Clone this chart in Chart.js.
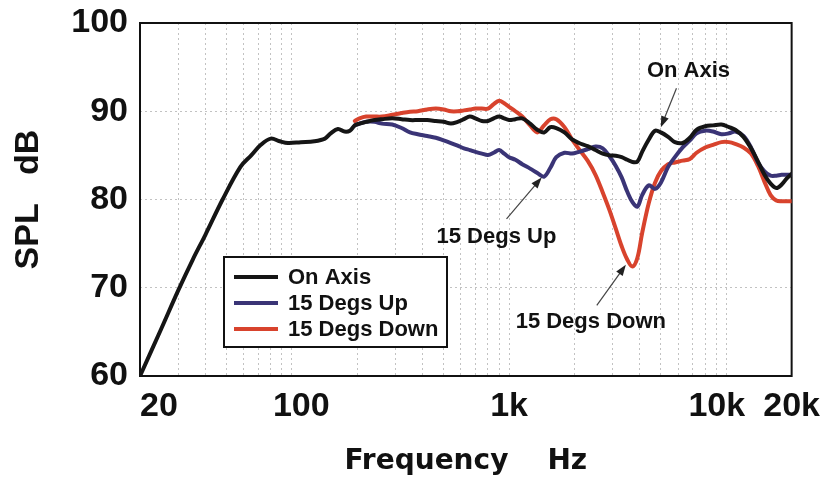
<!DOCTYPE html>
<html>
<head>
<meta charset="utf-8">
<title>SPL vs Frequency</title>
<script src="https://cdn.jsdelivr.net/npm/chart.js@4.4.1/dist/chart.umd.min.js"></script>
<style>
	html, body { margin: 0; padding: 0; background: #fff; }
	#wrap { width: 830px; height: 485px; }
</style>
</head>
<body>
<div id="wrap"><canvas id="spl" width="830" height="485"></canvas></div>
<script>
'use strict';

// frequencies (Hz) shared by all three curves
const freqs = [20, 25, 30, 35, 40, 48, 58, 65, 72, 80, 88, 96, 110, 127, 142, 151, 163, 175, 185, 195,
	205, 220, 240, 260, 290, 320, 350, 380, 420, 460, 500, 540, 580, 620, 660, 700, 750, 800, 850, 900,
	950, 1000, 1070, 1150, 1250, 1350, 1450, 1550, 1650, 1800, 1950, 2100, 2300, 2500, 2700, 2900,
	3100, 3300, 3500, 3700, 3900, 4100, 4400, 4700, 5000, 5400, 5800, 6300, 6800, 7300, 8000, 8700,
	9500, 10300, 11000, 12000, 13000, 14000, 15000, 16000, 17000, 18000, 19000, 20000];

const onAxis = [60.0, 65.3, 69.7, 73.2, 76.0, 80.0, 83.7, 85.0, 86.2, 86.9, 86.6, 86.4, 86.5, 86.6, 86.9,
	87.5, 88.0, 87.7, 87.8, 88.4, 88.6, 88.8, 89.0, 89.1, 89.2, 89.1, 89.0, 89.0, 89.0, 88.9,
	88.8, 88.6, 88.8, 89.1, 89.4, 89.2, 88.9, 88.9, 89.2, 89.4, 89.2, 89.0, 89.1, 89.2, 88.6,
	87.9, 87.6, 88.2, 88.1, 87.6, 86.8, 86.4, 86.05, 85.6, 85.2, 85.0, 84.95, 84.8, 84.5, 84.25,
	84.3, 85.4, 86.8, 87.8, 87.6, 87.1, 86.5, 86.4, 87.0, 87.9, 88.3, 88.4, 88.5, 88.2, 87.9,
	87.1, 85.8, 84.3, 82.8, 81.8, 81.3, 81.7, 82.4, 82.9];

const degsUp = [null, null, null, null, null, null, null, null, null, null, null, null, null, null, null,
	null, null, null, null,
	88.4, 88.6, 88.8, 88.8, 88.6, 88.5, 88.1, 87.6, 87.4, 87.2, 87.0, 86.7, 86.4, 86.1, 85.8,
	85.6, 85.4, 85.2, 85.05, 85.3, 85.6, 85.2, 84.8, 84.5, 84.0, 83.5, 83.0, 82.6, 83.6, 84.8,
	85.3, 85.2, 85.4, 85.7, 86.0, 85.8, 84.9, 83.8, 82.5, 80.9, 79.7, 79.2, 80.5, 81.6, 81.2,
	81.9, 83.7, 84.8, 85.9, 86.7, 87.5, 87.8, 87.7, 87.4, 87.5, 87.7, 87.2, 85.9, 84.2, 83.2,
	82.7, 82.7, 82.8, 82.8, 82.8];

const degsDown = [null, null, null, null, null, null, null, null, null, null, null, null, null, null, null,
	null, null, null, null,
	88.9, 89.2, 89.4, 89.4, 89.4, 89.6, 89.8, 89.95, 90.0, 90.2, 90.3, 90.2, 90.0, 90.0, 90.1,
	90.2, 90.3, 90.3, 90.3, 90.8, 91.2, 90.9, 90.5, 90.0, 89.4, 88.4, 87.6, 88.4, 89.1, 89.1,
	88.2, 86.8, 85.7, 84.4, 82.8, 80.8, 78.8, 76.7, 74.7, 73.2, 72.4, 73.4, 76.2, 79.6, 81.9,
	83.2, 84.0, 84.2, 84.4, 84.6, 85.3, 85.9, 86.2, 86.5, 86.5, 86.3, 85.9, 85.2, 83.8, 82.0,
	80.5, 79.9, 79.8, 79.8, 79.8];

const seriesNames = ['On Axis', '15 Degs Up', '15 Degs Down'];
const seriesColors = ['#151515', '#3a3476', '#d8432d'];

// x grid lines (Hz) and the few that carry a label
const xGridFreqs = [20, 30, 40, 50, 60, 70, 80, 90, 100, 200, 300, 400, 500, 600, 700, 800, 900,
	1000, 2000, 3000, 4000, 5000, 6000, 7000, 8000, 9000, 10000, 20000];
const xTickLabels = { 20: '    20', 100: '  100', 1000: '1k', 10000: '10k  ', 20000: '20k' };

// callouts: label centre, arrow tail, arrow tip, all as [Hz, dB]
const callouts = [
	{ text: 'On Axis', at: [6700, 94.6], from: [5900, 92.6], to: [5000, 88.2] },
	{ text: '15 Degs Up', at: [875, 75.8], from: [974, 77.8], to: [1413, 82.5] },
	{ text: '15 Degs Down', at: [2380, 66.1], from: [2535, 68.0], to: [3450, 72.6] }
];

const ARIAL = '"Liberation Sans", Arial, Helvetica, sans-serif';

const framePlugin = {
	id: 'frame',
	beforeDatasetsDraw(chart) {
		const { ctx, chartArea: a } = chart;
		ctx.save();
		ctx.strokeStyle = '#111';
		ctx.lineWidth = 2;
		ctx.strokeRect(a.left, a.top, a.right - a.left, a.bottom - a.top);
		ctx.restore();
	}
};

const boxLegendPlugin = {
	id: 'boxLegend',
	afterDatasetsDraw(chart) {
		const { ctx, chartArea: a } = chart;
		const left = a.left + 84, top = a.top + 234, w = 223, h = 90;
		ctx.save();
		ctx.fillStyle = '#fff';
		ctx.fillRect(left, top, w, h);
		ctx.strokeStyle = '#111';
		ctx.lineWidth = 2;
		ctx.strokeRect(left, top, w, h);
		ctx.font = 'bold 22px ' + ARIAL;
		ctx.textBaseline = 'middle';
		chart.data.datasets.forEach((ds, i) => {
			const y = top + 20 + i * 26;
			ctx.strokeStyle = ds.borderColor;
			ctx.lineWidth = 4;
			ctx.beginPath();
			ctx.moveTo(left + 10, y);
			ctx.lineTo(left + 54, y);
			ctx.stroke();
			ctx.fillStyle = '#111';
			ctx.fillText(ds.label, left + 64, y + 1);
		});
		ctx.restore();
	}
};

const calloutPlugin = {
	id: 'callouts',
	afterDatasetsDraw(chart) {
		const { ctx, scales: { x, y } } = chart;
		ctx.save();
		for (const c of callouts) {
			const x1 = x.getPixelForValue(c.from[0]), y1 = y.getPixelForValue(c.from[1]);
			const x2 = x.getPixelForValue(c.to[0]), y2 = y.getPixelForValue(c.to[1]);
			const ang = Math.atan2(y2 - y1, x2 - x1);
			ctx.strokeStyle = '#444';
			ctx.fillStyle = '#222';
			ctx.lineWidth = 1.2;
			ctx.beginPath();
			ctx.moveTo(x1, y1);
			ctx.lineTo(x2 - 8 * Math.cos(ang), y2 - 8 * Math.sin(ang));
			ctx.stroke();
			ctx.beginPath();
			ctx.moveTo(x2, y2);
			ctx.lineTo(x2 - 11 * Math.cos(ang) + 4 * Math.sin(ang), y2 - 11 * Math.sin(ang) - 4 * Math.cos(ang));
			ctx.lineTo(x2 - 11 * Math.cos(ang) - 4 * Math.sin(ang), y2 - 11 * Math.sin(ang) + 4 * Math.cos(ang));
			ctx.closePath();
			ctx.fill();

			ctx.fillStyle = '#111';
			ctx.font = 'bold 22px ' + ARIAL;
			ctx.textAlign = 'center';
			ctx.textBaseline = 'middle';
			ctx.fillText(c.text, x.getPixelForValue(c.at[0]), y.getPixelForValue(c.at[1]));
		}
		ctx.restore();
	}
};

function series(values, i) {
	return {
		label: seriesNames[i],
		data: freqs.map((f, k) => ({ x: f, y: values[k] })),
		borderColor: seriesColors[i],
		backgroundColor: seriesColors[i],
		borderWidth: 4,
		pointRadius: 0,
		tension: 0.35,
		borderJoinStyle: 'round',
		borderCapStyle: 'round'
	};
}

new Chart(document.getElementById('spl'), {
	type: 'line',
	data: { datasets: [series(onAxis, 0), series(degsUp, 1), series(degsDown, 2)] },
	options: {
		responsive: false,
		animation: false,
		layout: { padding: { top: 23, right: 38, bottom: 0, left: 0 } },
		plugins: { legend: { display: false }, tooltip: { enabled: false } },
		scales: {
			x: {
				type: 'logarithmic',
				min: 20,
				max: 20000,
				afterBuildTicks(scale) { scale.ticks = xGridFreqs.map(v => ({ value: v })); },
				afterFit(scale) { scale.height = 109; },
				grid: { color: '#c2c2c2', lineWidth: 1, drawTicks: false },
				border: { display: false, dash: [2, 3] },
				ticks: {
					autoSkip: false,
					maxRotation: 0,
					padding: 10,
					color: '#111',
					font: { family: ARIAL, size: 34, weight: 'bold' },
					callback: v => xTickLabels[v] || ''
				},
				title: {
					display: true,
					text: 'Frequency    Hz',
					color: '#111',
					font: { family: '"DejaVu Sans", sans-serif', size: 28, weight: 'bold' },
					padding: { top: 0, bottom: 6 }
				}
			},
			y: {
				min: 60,
				max: 100,
				afterFit(scale) {
					scale.width = 140;
					scale.paddingTop = 0;
					scale.paddingBottom = 0;
				},
				grid: { color: '#c2c2c2', lineWidth: 1, drawTicks: false },
				border: { display: false, dash: [2, 3] },
				ticks: {
					stepSize: 10,
					padding: 12,
					color: '#111',
					font: { family: ARIAL, size: 34, weight: 'bold', lineHeight: 1 }
				},
				title: {
					display: true,
					text: 'SPL   dB',
					color: '#111',
					font: { family: ARIAL, size: 34, weight: 'bold' },
					padding: { top: 8, bottom: 0 }
				}
			}
		}
	},
	plugins: [framePlugin, boxLegendPlugin, calloutPlugin]
});
</script>
</body>
</html>
